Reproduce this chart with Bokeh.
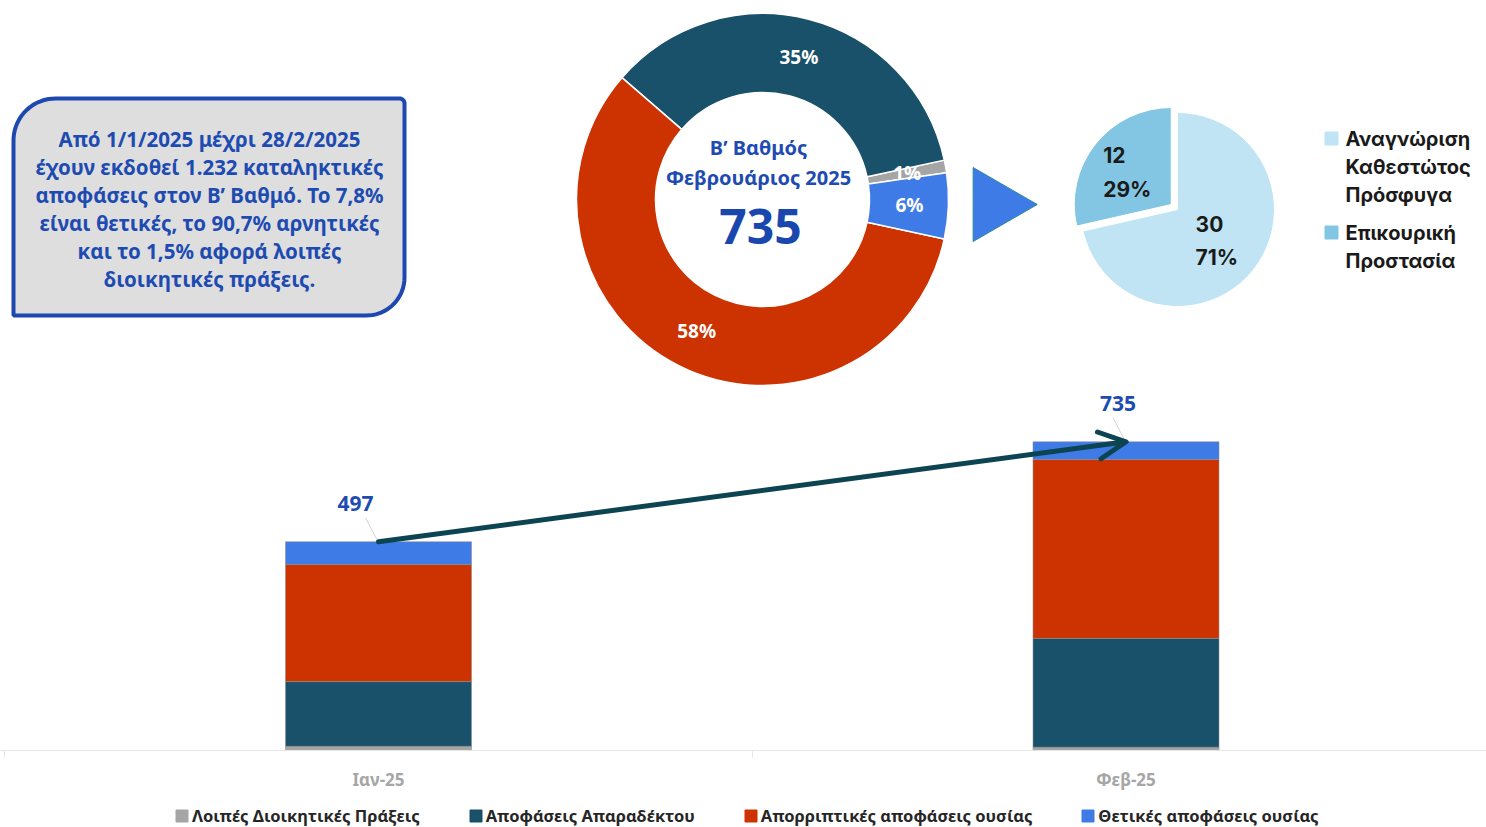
import numpy as np
from bokeh.plotting import figure
from bokeh.models import (ColumnDataSource, Range1d, FixedTicker, Arrow, OpenHead,
                          Legend, LegendItem)
from bokeh.layouts import column, row
from bokeh.embed import file_html
from bokeh.resources import INLINE
from bokeh.core.properties import value

# ---------------- data ----------------
months = ["Ιαν-25", "Φεβ-25"]
series_names = ["Λοιπές Διοικητικές Πράξεις", "Αποφάσεις Απαραδέκτου",
                "Απορριπτικές αποφάσεις ουσίας", "Θετικές αποφάσεις ουσίας"]
other_acts = [10, 8]
inadmissible = [154, 259]
rejections = [279, 426]
positive = [54, 42]
series_colors = ["#A5A5A5", "#19516A", "#CC3300", "#3F7BE6"]

donut_title = ["Β’ Βαθμός", "Φεβρουάριος 2025"]

pie_names = [["Αναγνώριση", "Καθεστώτος", "Πρόσφυγα"], ["Επικουρική", "Προστασία"]]
pie_values = [30, 12]
pie_colors = ["#C0E4F3", "#82C6E3"]
pie_explode = [0, 1]

box_lines = ["Από 1/1/2025 μέχρι 28/2/2025",
             "έχουν εκδοθεί 1.232 καταληκτικές",
             "αποφάσεις στον Β’ Βαθμό. Το 7,8%",
             "είναι θετικές, το 90,7% αρνητικές",
             "και το 1,5% αφορά λοιπές",
             "διοικητικές πράξεις."]

BLUE_TXT = "#1D4BB2"
FONT = value("Noto Sans")
TOP_H = 385


def blank(w, h, xr, yr):
    f = figure(width=w, height=h, x_range=xr, y_range=yr, output_backend="svg",
               toolbar_location=None, x_axis_location=None, y_axis_location=None,
               min_border=0, outline_line_color=None)
    f.xgrid.visible = False
    f.ygrid.visible = False
    return f


# ---------------- text box ----------------
bw = 560
pb = blank(bw, TOP_H, Range1d(0, bw), Range1d(-TOP_H, 0))   # y = -(pixels from top)


def rounded_box(l, r, b, t, rtl, rtr, rbr, rbl):
    xs, ys = [], []
    def arc(cx, cy, rad, a0, a1):
        a = np.radians(np.linspace(a0, a1, 20))
        xs.extend(cx + rad * np.cos(a)); ys.extend(cy + rad * np.sin(a))
    arc(l + rtl, t - rtl, rtl, 180, 90)
    arc(r - rtr, t - rtr, rtr, 90, 0)
    arc(r - rbr, b + rbr, rbr, 0, -90)
    arc(l + rbl, b + rbl, rbl, -90, -180)
    return xs, ys

bx, by = rounded_box(13, 404, -315, -98, 42, 5, 38, 0)
pb.patch(bx, by, fill_color="#DEDEDE", line_color="#1C48B0", line_width=4)
pb.text(x=[209] * len(box_lines), y=[-138 - 28 * k for k in range(len(box_lines))],
        text=box_lines, text_align="center", text_baseline="middle",
        text_font=FONT, text_font_style="bold", text_font_size="20.5px",
        text_color=BLUE_TXT)

# ---------------- donut (February) ----------------
dw = 400
pd_ = blank(dw, TOP_H, Range1d(-202, 198), Range1d(-(TOP_H - 199), 199))
feb = [other_acts[1], inadmissible[1], rejections[1], positive[1]]
feb_total = sum(feb)
fr = np.array(feb) / feb_total
start_off = np.radians(8.3)
ends = start_off + 2 * np.pi * np.cumsum(fr)
starts = ends - 2 * np.pi * fr
pd_.annular_wedge(x=0, y=0, inner_radius=107, outer_radius=186,
                  start_angle=starts, end_angle=ends, color=series_colors,
                  line_color="white", line_width=1.5)
mids = (starts + ends) / 2
rl = 147
pd_.text(x=rl * np.cos(mids), y=rl * np.sin(mids),
         text=[f"{round(v * 100)}%" for v in fr], text_align="center",
         text_baseline="middle", text_font=FONT, text_font_style="bold",
         text_font_size="19px", text_color="white")
pd_.text(x=[-4, -4], y=[52, 22], text=donut_title, text_align="center",
         text_baseline="middle", text_font=FONT, text_font_style="bold",
         text_font_size="20px", text_color=BLUE_TXT)
pd_.text(x=[-2], y=[-27], text=[str(feb_total)], text_align="center",
         text_baseline="middle", text_font=FONT, text_font_style="bold",
         text_font_size="48px", text_color="#1A47AD")

# ---------------- pie (positive decisions) ----------------
pw = 526
pp = blank(pw, TOP_H, Range1d(-217, 309), Range1d(-(TOP_H - 209), 209))
pv = np.array(pie_values)
pf = pv / pv.sum()
a_start = np.pi / 2 - 2 * np.pi * np.concatenate([[0], np.cumsum(pf)[:-1]])
a_end = a_start - 2 * np.pi * pf
pmid = (a_start + a_end) / 2
ex = np.array(pie_explode) * 8
pp.wedge(x=ex * np.cos(pmid), y=ex * np.sin(pmid), radius=97,
         start_angle=a_start, end_angle=a_end, direction="clock",
         color=pie_colors, line_color="white", line_width=1)
lr = np.where(np.array(pie_explode) > 0, 63, 50)
lx = lr * np.cos(pmid) - 21 - np.array(pie_explode) * 4
ly = lr * np.sin(pmid) - np.array(pie_explode) * 2
pp.text(x=lx, y=ly + 17, text=[str(v) for v in pie_values], text_align="left",
        text_baseline="middle", text_font=value("Inter"), text_font_style="bold",
        text_font_size="21px", text_color="#1A1A1A")
pp.text(x=lx, y=ly - 17, text=[f"{round(v * 100)}%" for v in pf], text_align="left",
        text_baseline="middle", text_font=value("Inter"), text_font_style="bold",
        text_font_size="21px", text_color="#1A1A1A")
# pointer triangle
pp.scatter(x=[-183], y=[5], marker="triangle", size=74, angle=-np.pi / 2,
           fill_color="#3F7BE6", line_color="#2A8A9C", line_width=1)
# legend of the pie
yy = 71
sq_x, sq_y, tx, ty, tt = [], [], [], [], []
for name_lines in pie_names:
    sq_x.append(154); sq_y.append(yy)
    for k, ln in enumerate(name_lines):
        tx.append(168); ty.append(yy - 28 * k); tt.append(ln)
    yy -= 28 * len(name_lines) + 10
pp.scatter(x=sq_x, y=sq_y, marker="square", size=13, color=pie_colors)
pp.text(x=tx, y=ty, text=tt, text_align="left", text_baseline="middle",
        text_font=value("Inter"), text_font_style="bold", text_font_size="20px",
        text_color="#1A1A1A")

# ---------------- stacked bars ----------------
PXX = 747.5   # px per category step
PXY = 0.42    # px per value unit
FW = 1486
BAR_H = 800 - TOP_H
xi = list(range(len(months)))
pbar = figure(width=FW, height=BAR_H, output_backend="svg", toolbar_location=None,
              x_range=Range1d(-378 / PXX, (FW - 378) / PXX),
              y_range=Range1d(0, (750 - TOP_H) / PXY),
              y_axis_location=None, min_border_left=0, min_border_right=0,
              min_border_top=0, min_border_bottom=50, outline_line_color=None)
pbar.xgrid.visible = False
pbar.ygrid.visible = False
keys = ["other", "inadm", "rej", "pos"]
src = ColumnDataSource(dict(x=xi, other=other_acts, inadm=inadmissible,
                            rej=rejections, pos=positive))
rs = pbar.vbar_stack(keys, x="x", width=186 / PXX, color=series_colors, source=src,
                     line_color="#8C8C8C", line_width=0.8, line_alpha=0.7)
totals = [a + b + c + d for a, b, c, d in zip(other_acts, inadmissible, rejections, positive)]
pbar.segment(x0=[i - 13 / PXX for i in xi], y0=[t + 24 / PXY for t in totals],
             x1=[i - 1 / PXX for i in xi], y1=[t + 1 / PXY for t in totals],
             line_color="#C8C8C8", line_width=0.8)
lsrc = ColumnDataSource(dict(x=xi, y=totals, t=[str(t) for t in totals], xo=[-23, -8]))
pbar.text(x="x", y="y", text="t", x_offset="xo", y_offset=-38, source=lsrc,
          text_align="center", text_baseline="middle", text_font=FONT,
          text_font_style="bold", text_font_size="21px", text_color=BLUE_TXT)
pbar.add_layout(Arrow(x_start=xi[0], y_start=totals[0], x_end=xi[1], y_end=totals[1],
                      line_color="#0D4452", line_width=5, line_cap="round",
                      end=OpenHead(size=27, line_width=5, line_color="#0D4452",
                                   line_cap="round", line_join="round")))
ax = pbar.xaxis[0]
ax.ticker = FixedTicker(ticks=xi, minor_ticks=[-0.5, 0.5, 1.5])
ax.major_label_overrides = {i: m for i, m in zip(xi, months)}
ax.axis_line_color = "#E6E6E6"
ax.major_tick_line_color = None
ax.minor_tick_out = 7
ax.minor_tick_in = 0
ax.minor_tick_line_color = "#E6E6E6"
ax.major_label_standoff = 10
ax.major_label_text_font = "Noto Sans"
ax.major_label_text_font_style = "bold"
ax.major_label_text_font_size = "17px"
ax.major_label_text_color = "#A6A6A6"

# ---------------- legend strip for the bars ----------------
pl = blank(FW, 27, Range1d(0, 1), Range1d(0, 1))
proxies = [pl.vbar(x=[0.5], top=[-5], bottom=[-6], width=0.1, color=c)
           for c in series_colors]
leg = Legend(items=[LegendItem(label=n, renderers=[r]) for n, r in zip(series_names, proxies)],
             orientation="horizontal", location=(174, 0), glyph_width=15,
             glyph_height=15, label_text_font="Noto Sans", label_text_font_size="16.5px",
             label_text_font_style="bold",
             label_text_color="#262626", label_standoff=3, spacing=48, padding=0,
             margin=0, border_line_color=None, background_fill_alpha=0, label_height=20)
pl.add_layout(leg)

layout = column(row(pb, pd_, pp), pbar, pl)
open("out.html", "w").write(file_html(layout, INLINE))
